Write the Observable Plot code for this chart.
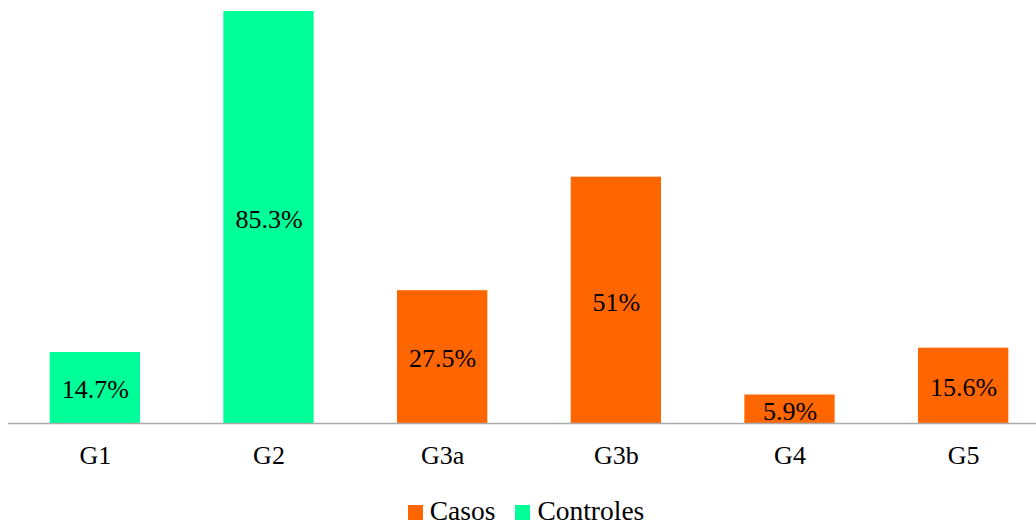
<!DOCTYPE html>
<html>
<head>
<meta charset="utf-8">
<script src="https://cdn.jsdelivr.net/npm/d3@7"></script>
<script src="https://cdn.jsdelivr.net/npm/@observablehq/plot@0.6"></script>
<style>
  html, body { margin: 0; padding: 0; background: #fff; }
  #chart { position: relative; width: 1036px; height: 525px; overflow: hidden; font-family: "Liberation Serif", "Times New Roman", serif; }
  #legend { position: absolute; left: 0; width: 1036px; top: 497px; height: 28px; line-height: 28px; display: flex; justify-content: center; align-items: center; font-size: 27.5px; color: #000; padding-left: 16px; box-sizing: border-box; }
  .item { display: flex; align-items: center; margin: 0 10px; }
  .sw { width: 15px; height: 15px; margin-right: 7px; margin-top: 3px; }
</style>
</head>
<body>
<div id="chart"></div>
<script>
// Groups, percentages and the series each group belongs to
const groups = ["G1", "G2", "G3a", "G3b", "G4", "G5"];
const values = [14.7, 85.3, 27.5, 51, 5.9, 15.6];
const labels = ["14.7%", "85.3%", "27.5%", "51%", "5.9%", "15.6%"];
const series = ["Controles", "Controles", "Casos", "Casos", "Casos", "Casos"];

const seriesNames = ["Casos", "Controles"];
const seriesColors = ["#FF6600", "#00FF99"];

const data = groups.map((g, i) => ({group: g, value: values[i], label: labels[i], series: series[i]}));

const font = '"Liberation Serif", "Times New Roman", serif';

const chart = Plot.plot({
  width: 1036,
  height: 495,
  marginTop: 11,
  marginBottom: 72,
  marginLeft: 8,
  marginRight: 0,
  style: {fontFamily: font, fontSize: "26px", color: "#000", background: "#fff"},
  x: {domain: groups, range: [8, 1050], round: false, paddingInner: 0.48, paddingOuter: 0.24, label: null},
  y: {domain: [0, 85.3], axis: null},
  color: {domain: seriesNames, range: seriesColors},
  marks: [
    Plot.barY(data, {x: "group", y: "value", fill: "series"}),
    Plot.ruleY([0], {stroke: "#ababab", strokeWidth: 1.6}),
    Plot.text(data, {x: "group", y: d => d.value / 2, text: "label", fill: "#000", fontSize: 26, fontFamily: font, dy: 2}),
    Plot.axisX({tickSize: 0, tickPadding: 22, fontSize: 26, fontFamily: font, fill: "#000"})
  ]
});

const root = document.getElementById("chart");
root.appendChild(chart);

const legend = document.createElement("div");
legend.id = "legend";
seriesNames.forEach((name, i) => {
  const item = document.createElement("div");
  item.className = "item";
  const sw = document.createElement("span");
  sw.className = "sw";
  sw.style.background = seriesColors[i];
  const t = document.createElement("span");
  t.textContent = name;
  item.appendChild(sw);
  item.appendChild(t);
  legend.appendChild(item);
});
root.appendChild(legend);
</script>
</body>
</html>
